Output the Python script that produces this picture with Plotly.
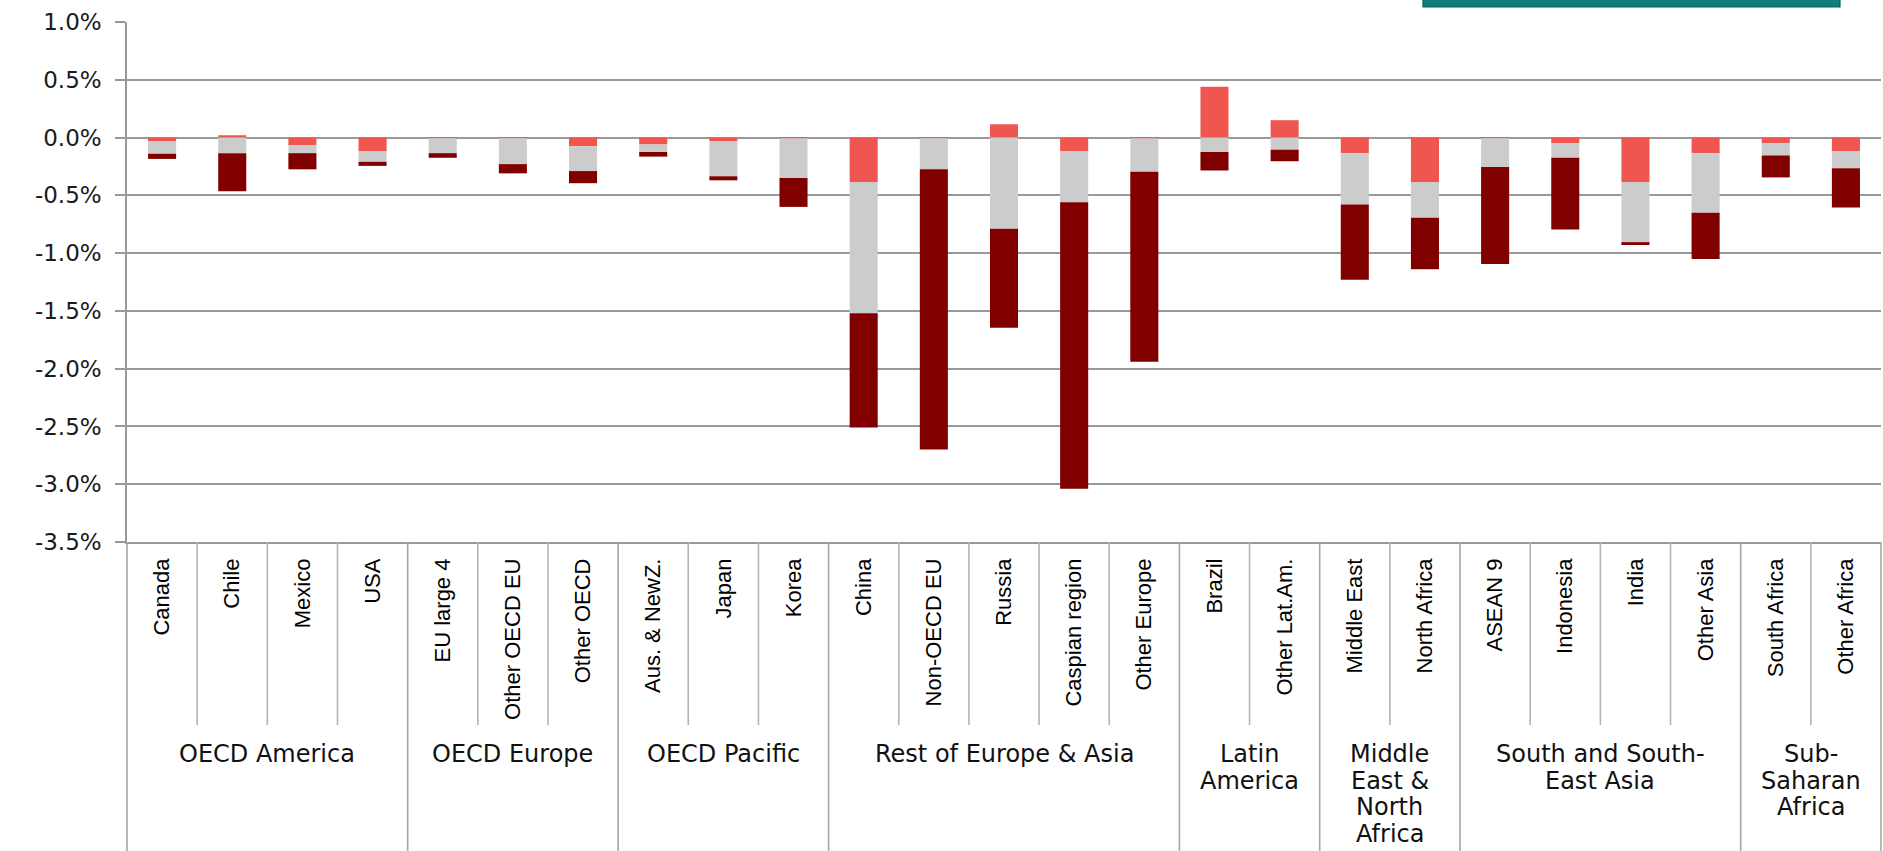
import plotly.graph_objects as go

# ---------------- data ----------------
categories = ["Canada", "Chile", "Mexico", "USA", "EU large 4", "Other OECD EU", "Other OECD",
              "Aus. & NewZ.", "Japan", "Korea", "China", "Non-OECD EU", "Russia",
              "Caspian region", "Other Europe", "Brazil", "Other Lat.Am.", "Middle East",
              "North Africa", "ASEAN 9", "Indonesia", "India", "Other Asia",
              "South Africa", "Other Africa"]

seg_red = [-0.03, 0.02, -0.065, -0.12, -0.005, -0.005, -0.075, -0.06, -0.03, -0.005,
           -0.385, -0.005, 0.115, -0.12, -0.005, 0.44, 0.15, -0.135, -0.385, -0.005,
           -0.05, -0.385, -0.135, -0.05, -0.12]
seg_grey = [-0.11, -0.135, -0.07, -0.09, -0.13, -0.225, -0.215, -0.065, -0.305, -0.345,
            -1.135, -0.27, -0.79, -0.44, -0.29, -0.125, -0.105, -0.445, -0.31, -0.25,
            -0.125, -0.52, -0.515, -0.105, -0.145]
seg_dark = [-0.045, -0.33, -0.14, -0.035, -0.04, -0.08, -0.105, -0.04, -0.035, -0.25,
            -0.99, -2.425, -0.855, -2.48, -1.645, -0.16, -0.1, -0.65, -0.445, -0.84,
            -0.62, -0.025, -0.4, -0.19, -0.34]

group_names = ["OECD America", "OECD Europe", "OECD Pacific", "Rest of Europe & Asia",
               "Latin<br>America", "Middle<br>East &<br>North<br>Africa",
               "South and South-<br>East Asia", "Sub-<br>Saharan<br>Africa"]
group_sizes = [4, 3, 3, 5, 2, 2, 4, 2]

y_tickvals = [1.0, 0.5, 0.0, -0.5, -1.0, -1.5, -2.0, -2.5, -3.0, -3.5]
y_ticktext = ["1.0%", "0.5%", "0.0%", "-0.5%", "-1.0%", "-1.5%", "-2.0%", "-2.5%", "-3.0%", "-3.5%"]

# ---------------- layout constants ----------------
W, H = 1883, 851
ML, MR, MT, MB = 127, 2, 22, 309
PH = H - MT - MB          # plot height in px
AX_BOTTOM = H - MB        # pixel y of plot bottom


def py2paper(py):
    return (AX_BOTTOM - py) / PH


n = len(categories)

fig = go.Figure()
fig.add_trace(go.Bar(x=categories, y=seg_red, name="seg1", marker=dict(color="#EF5650", line=dict(width=0))))
fig.add_trace(go.Bar(x=categories, y=seg_grey, name="seg2", marker=dict(color="#CCCCCC", line=dict(width=0))))
fig.add_trace(go.Bar(x=categories, y=seg_dark, name="seg3", marker=dict(color="#800000", line=dict(width=0))))

shapes = []
annotations = []

# separators below the axis
boundaries = [0]
acc = 0
for s in group_sizes:
    acc += s
    boundaries.append(acc)

for k in range(0, n + 1):
    xp = k / n
    if k in boundaries:
        shapes.append(dict(type="line", xref="paper", yref="paper", x0=xp, x1=xp,
                           y0=0, y1=py2paper(H + 2), line=dict(color="#A6A6A6", width=1.6)))
    else:
        shapes.append(dict(type="line", xref="paper", yref="paper", x0=xp, x1=xp,
                           y0=0, y1=py2paper(725), line=dict(color="#B4B4B4", width=1.6)))

# group labels (one line per annotation to match the tight line spacing)
line_step = 26.7
for gi, (gname, gsize) in enumerate(zip(group_names, group_sizes)):
    start = boundaries[gi]
    xc = (start + gsize / 2) / n
    for li, part in enumerate(gname.split("<br>")):
        yc = 754 + line_step * li
        annotations.append(dict(x=xc, y=py2paper(yc), xref="paper", yref="paper",
                                text=part, showarrow=False, xanchor="center", yanchor="middle",
                                font=dict(family="DejaVu Sans", size=24, color="#111111")))

# teal box cut at the top edge
shapes.append(dict(type="rect", xref="paper", yref="paper",
                   x0=(1423 - ML) / (W - ML - MR), x1=(1840 - ML) / (W - ML - MR),
                   y0=py2paper(7), y1=py2paper(-3),
                   fillcolor="#0F7D7A", line=dict(color="#0A5C5A", width=1.2)))

fig.update_layout(
    width=W, height=H,
    margin=dict(l=ML, r=MR, t=MT, b=MB, pad=0),
    barmode="relative",
    bargap=0.6,
    showlegend=False,
    plot_bgcolor="white",
    paper_bgcolor="white",
    shapes=shapes,
    annotations=annotations,
)

fig.update_xaxes(
    type="category",
    range=[-0.5, n - 0.5],
    tickangle=-90,
    tickfont=dict(family="Liberation Sans, Arial", size=22, color="#000000"),
    showgrid=False,
    showline=True, linecolor="#999999", linewidth=1.5,
    ticks="",
    ticklabelstandoff=6,
)

fig.update_yaxes(
    range=[-3.5, 1.0],
    tickvals=y_tickvals,
    ticktext=y_ticktext,
    tickfont=dict(family="DejaVu Sans", size=23, color="#1a1a1a"),
    showgrid=True, gridcolor="#999999", gridwidth=1.5,
    zeroline=False,
    showline=True, linecolor="#999999", linewidth=1.5,
    ticks="outside", ticklen=10, tickcolor="#999999", tickwidth=1.5,
    ticklabelstandoff=9,
)

fig.write_html("out.html",
               config={"displayModeBar": False},
               post_script="document.body.style.margin='0';document.body.style.overflow='hidden';")
